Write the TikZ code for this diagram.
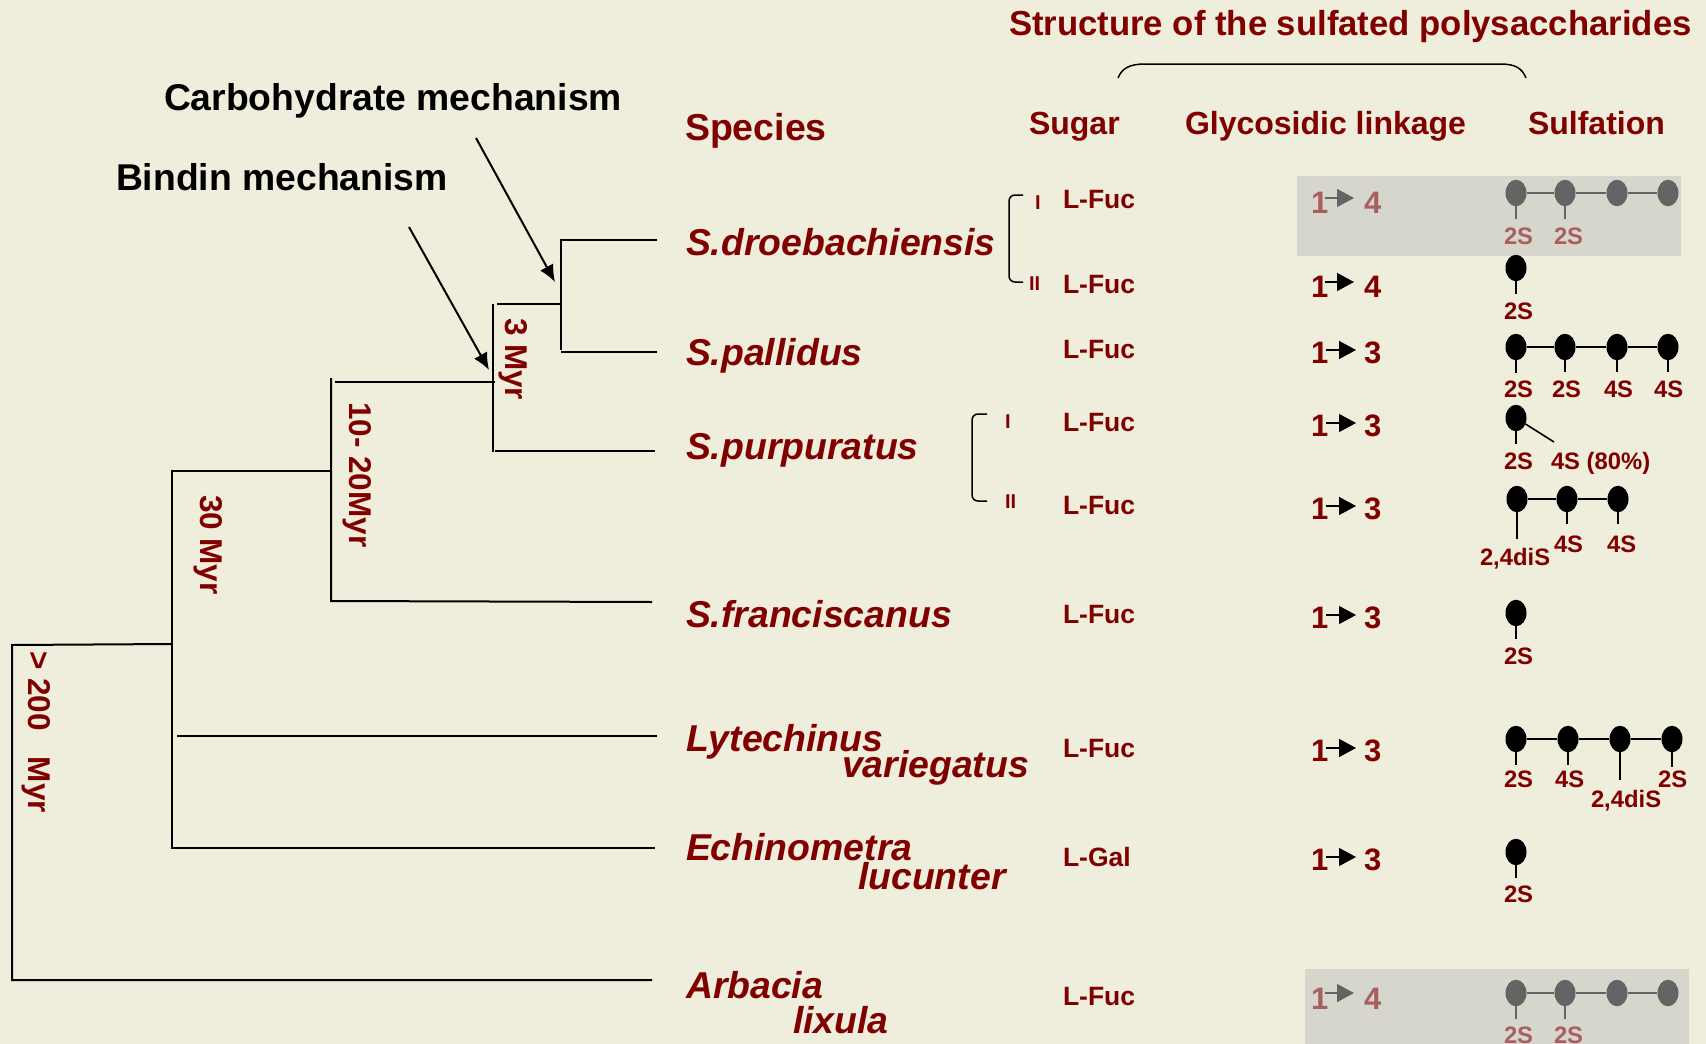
\documentclass[tikz,border=0pt]{standalone}
\usepackage{fontspec}
\setmainfont{Liberation Sans}
\usetikzlibrary{arrows.meta,shapes.geometric}
\definecolor{bgc}{HTML}{EFEDDC}
\definecolor{dred}{HTML}{800000}
\definecolor{fadered}{HTML}{A85F5F}
\definecolor{greyrect}{HTML}{D6D6CC}
\definecolor{greydot}{HTML}{646464}
\tikzset{
 tx/.style={anchor=base west,inner sep=0pt,outer sep=0pt,text=dred},
 ftitle/.style={tx,font=\bfseries\fontsize{34.7}{36}\selectfont},
 fhead/.style={tx,font=\bfseries\fontsize{32}{34}\selectfont},
 fmech/.style={tx,text=black,font=\bfseries\fontsize{37.3}{40}\selectfont},
 fspec/.style={tx,font=\bfseries\itshape\fontsize{37.4}{40}\selectfont},
 fsugar/.style={tx,font=\bfseries\fontsize{26.5}{28}\selectfont},
 flink/.style={tx,font=\bfseries\fontsize{31}{32}\selectfont},
 flab/.style={tx,font=\bfseries\fontsize{23.8}{25}\selectfont},
 fladim/.style={flab,text=fadered},
 fldim/.style={flink,text=fadered},
 from/.style={tx,font=\bfseries\fontsize{20}{22}\selectfont},
 frot/.style={tx,rotate=-90,font=\bfseries\fontsize{31.5}{33}\selectfont},
 tree/.style={draw=black,line width=2pt},
 pointer/.style={draw=black,line width=2pt,-{Latex[length=17pt,width=15pt]}},
 brk/.style={draw=black,line width=1.5pt,rounded corners=6pt},
 su/.style={ellipse,fill=black,inner sep=0pt,minimum width=21pt,minimum height=26.5pt},
 sg/.style={su,fill=greydot},
 bond/.style={draw=black,line width=1.6pt},
 bondg/.style={draw=greydot,line width=1.6pt},
 linkar/.style={draw=black,line width=1.4pt,-{Triangle[length=17pt,width=18pt]}},
 linkarg/.style={draw=greydot,line width=1.4pt,-{Triangle[length=17pt,width=18pt]}},
}
\begin{document}
\begin{tikzpicture}[x=1pt,y=-1pt]
\useasboundingbox (0,0) rectangle (1706,1044);
\fill[bgc] (0,0) rectangle (1706,1044);
\fill[greyrect] (1297,176) rectangle (1681,256);
\fill[greyrect] (1305,969) rectangle (1689,1044);

% headings
\node[ftitle] (title) at (1009,35) {Structure of the sulfated polysaccharides};
\coordinate (brA) at (1118,78); \coordinate (brB) at (1526,78);
\draw[line width=1.5pt] (brA) .. controls (1122,68) and (1130,64) .. (1145,64) -- (1500,64) .. controls (1515,64) and (1522,68) .. (brB);
\node[fmech] (carb) at (164,110) {Carbohydrate mechanism};
\node[fmech] (bind) at (116,190) {Bindin mechanism};
\node[fhead,font=\bfseries\fontsize{37.5}{40}\selectfont] (spec) at (685,140) {Species};
\node[fhead] (sugar) at (1029,134) {Sugar};
\node[fhead] (glyc) at (1185,134) {Glycosidic linkage};
\node[fhead] (sulf) at (1528,134) {Sulfation};

% species
\node[fspec] (s1) at (686,255) {S.droebachiensis};
\node[fspec] (s2) at (686,365) {S.pallidus};
\node[fspec] (s3) at (686,459) {S.purpuratus};
\node[fspec] (s4) at (686,627) {S.franciscanus};
\node[fspec] (s5a) at (686,751) {Lytechinus};
\node[fspec] (s5b) at (842,777) {variegatus};
\node[fspec] (s6a) at (686,860) {Echinometra};
\node[fspec] (s6b) at (858,889) {lucunter};
\node[fspec] (s7a) at (686,998) {Arbacia};
\node[fspec] (s7b) at (793,1033) {lixula};

% tree
\coordinate (a1) at (561,240); \coordinate (a2) at (657,240);
\coordinate (a3) at (561,350); \coordinate (a4) at (561,352); \coordinate (a5) at (657,352);
\coordinate (a6) at (497,304); \coordinate (a7) at (561,304);
\coordinate (b1) at (493,304); \coordinate (b2) at (493,452);
\coordinate (b3) at (495,451); \coordinate (b4) at (655,451);
\coordinate (b5) at (335,382); \coordinate (b6) at (495,382);
\coordinate (c1) at (331,378); \coordinate (c2) at (331,601); \coordinate (c3) at (652,602);
\coordinate (d0) at (172,471); \coordinate (d1) at (331,471);
\coordinate (d2) at (172,848); \coordinate (d3) at (655,848);
\coordinate (d4) at (177,736); \coordinate (d5) at (657,736);
\coordinate (e0) at (12,645); \coordinate (e1) at (172,644);
\coordinate (e2) at (12,980); \coordinate (e3) at (652,980);
\draw[tree] (a2) -- (a1) -- (a3);
\draw[tree] (a4) -- (a5);
\draw[tree] (a6) -- (a7);
\draw[tree] (b1) -- (b2);
\draw[tree] (b3) -- (b4);
\draw[tree] (b5) -- (b6);
\draw[tree] (c1) -- (c2) -- (c3);
\draw[tree] (d1) -- (d0) -- (d2) -- (d3);
\draw[tree] (d4) -- (d5);
\draw[tree] (e1) -- (e0) -- (e2) -- (e3);
\coordinate (pa) at (476,138); \coordinate (pb) at (555,282);
\coordinate (pc) at (409,227); \coordinate (pd) at (489,370);
\draw[pointer] (pa) -- (pb);
\draw[pointer] (pc) -- (pd);
\node[frot] (t3) at (505,318) {3 Myr};
\node[frot] (t10) at (349,402) {10- 20Myr};
\node[frot] (t30) at (200,495) {30 Myr};
\node[frot] (t200) at (28,651) {>\ 200\ \ \ Myr};

% brackets
\coordinate (k1a) at (1023,195); \coordinate (k1b) at (1009,195); \coordinate (k1c) at (1009,282); \coordinate (k1d) at (1023,282);
\coordinate (k2a) at (987,414); \coordinate (k2b) at (972,414); \coordinate (k2c) at (972,501); \coordinate (k2d) at (987,501);
\draw[brk] (k1a) -- (k1b) -- (k1c) -- (k1d);
\draw[brk] (k2a) -- (k2b) -- (k2c) -- (k2d);
\node[from] (r1) at (1035,209) {I};
\node[from] (r2) at (1029,290) {II};
\node[from] (r3) at (1005,428) {I};
\node[from] (r4) at (1005,508) {II};

% sugars
\foreach \n/\y in {1/208,2/293,3/358,4/431,5/514,6/623,7/757,9/1005}
  \node[fsugar] (sug\n) at (1063,\y) {L-Fuc};
\node[fsugar] (sug8) at (1063,866) {L-Gal};

% linkages
\node[fldim] (one1) at (1311,213) {1};
\node[fldim] (dig1) at (1364,213) {4};
\coordinate (la1) at (1325,198); \coordinate (lb1) at (1354,198);
\draw[linkarg] (la1) -- (lb1);
\node[flink] (one2) at (1311,297) {1};
\node[flink] (dig2) at (1364,297) {4};
\coordinate (la2) at (1325,282); \coordinate (lb2) at (1354,282);
\draw[linkar] (la2) -- (lb2);
\foreach \n/\y in {3/363,4/436,5/519,6/628,7/761,8/870}{
  \node[flink] (one\n) at (1311,\y) {1};
  \node[flink] (dig\n) at (1364,\y) {3};
  \coordinate (la\n) at (1326,\y-13);
  \coordinate (lb\n) at (1356,\y-13);
  \draw[linkar] (la\n) -- (lb\n);
}
\node[fldim] (one9) at (1311,1009) {1};
\node[fldim] (dig9) at (1364,1009) {4};
\coordinate (la9) at (1325,993); \coordinate (lb9) at (1354,993);
\draw[linkarg] (la9) -- (lb9);

% sulfation row 1
\node[sg] (u1a) at (1516,193) {};
\node[sg] (u1b) at (1565,193) {};
\node[sg] (u1c) at (1617,193) {};
\node[sg] (u1d) at (1668,193) {};
\draw[bondg] (u1a) -- (u1b); \draw[bondg] (u1b) -- (u1c); \draw[bondg] (u1c) -- (u1d);
\coordinate (v1a) at (1516,219); \coordinate (v1b) at (1565,219);
\draw[bondg] (u1a) -- (v1a); \draw[bondg] (u1b) -- (v1b);
\node[fladim] (l1a) at (1504,244) {2S};
\node[fladim] (l1b) at (1554,244) {2S};
% row 2
\node[su] (u2a) at (1516,268) {};
\coordinate (v2a) at (1516,294); \draw[bond] (u2a) -- (v2a);
\node[flab] (l2a) at (1504,319) {2S};
% row 3
\node[su] (u3a) at (1516,347) {};
\node[su] (u3b) at (1565,347) {};
\node[su] (u3c) at (1617,347) {};
\node[su] (u3d) at (1668,347) {};
\draw[bond] (u3a) -- (u3b); \draw[bond] (u3b) -- (u3c); \draw[bond] (u3c) -- (u3d);
\coordinate (v3a) at (1516,373); \coordinate (v3b) at (1565,372); \coordinate (v3c) at (1617,372); \coordinate (v3d) at (1668,372);
\draw[bond] (u3a) -- (v3a); \draw[bond] (u3b) -- (v3b); \draw[bond] (u3c) -- (v3c); \draw[bond] (u3d) -- (v3d);
\node[flab] (l3a) at (1504,397) {2S};
\node[flab] (l3b) at (1552,397) {2S};
\node[flab] (l3c) at (1604,397) {4S};
\node[flab] (l3d) at (1654,397) {4S};
% row 4
\node[su] (u4a) at (1516,418) {};
\coordinate (v4a) at (1516,444); \coordinate (v4b) at (1554,442);
\draw[bond] (u4a) -- (v4a); \draw[bond] (u4a) -- (v4b);
\node[flab] (l4a) at (1504,469) {2S};
\node[flab] (l4b) at (1551,469) {4S (80\%)};
% row 5
\node[su] (u5a) at (1517,499) {};
\node[su] (u5b) at (1567,499) {};
\node[su] (u5c) at (1618,499) {};
\draw[bond] (u5a) -- (u5b); \draw[bond] (u5b) -- (u5c);
\coordinate (v5a) at (1517,539); \coordinate (v5b) at (1567,524); \coordinate (v5c) at (1618,524);
\draw[bond] (u5a) -- (v5a); \draw[bond] (u5b) -- (v5b); \draw[bond] (u5c) -- (v5c);
\node[flab] (l5a) at (1480,565) {2,4diS};
\node[flab] (l5b) at (1554,552) {4S};
\node[flab] (l5c) at (1607,552) {4S};
% row 6
\node[su] (u6a) at (1516,613) {};
\coordinate (v6a) at (1516,639); \draw[bond] (u6a) -- (v6a);
\node[flab] (l6a) at (1504,664) {2S};
% row 7
\node[su] (u7a) at (1516,739) {};
\node[su] (u7b) at (1568,739) {};
\node[su] (u7c) at (1620,739) {};
\node[su] (u7d) at (1672,739) {};
\draw[bond] (u7a) -- (u7b); \draw[bond] (u7b) -- (u7c); \draw[bond] (u7c) -- (u7d);
\coordinate (v7a) at (1516,765); \coordinate (v7b) at (1568,765); \coordinate (v7c) at (1620,780); \coordinate (v7d) at (1672,767);
\draw[bond] (u7a) -- (v7a); \draw[bond] (u7b) -- (v7b); \draw[bond] (u7c) -- (v7c); \draw[bond] (u7d) -- (v7d);
\node[flab] (l7a) at (1504,787) {2S};
\node[flab] (l7b) at (1555,787) {4S};
\node[flab] (l7c) at (1591,807) {2,4diS};
\node[flab] (l7d) at (1658,787) {2S};
% row 8
\node[su] (u8a) at (1516,852) {};
\coordinate (v8a) at (1516,878); \draw[bond] (u8a) -- (v8a);
\node[flab] (l8a) at (1504,902) {2S};
% row 9
\node[sg] (u9a) at (1516,993) {};
\node[sg] (u9b) at (1565,993) {};
\node[sg] (u9c) at (1617,993) {};
\node[sg] (u9d) at (1668,993) {};
\draw[bondg] (u9a) -- (u9b); \draw[bondg] (u9b) -- (u9c); \draw[bondg] (u9c) -- (u9d);
\coordinate (v9a) at (1516,1019); \coordinate (v9b) at (1565,1019);
\draw[bondg] (u9a) -- (v9a); \draw[bondg] (u9b) -- (v9b);
\node[fladim] (l9a) at (1504,1043) {2S};
\node[fladim] (l9b) at (1554,1043) {2S};
\end{tikzpicture}
\end{document}
